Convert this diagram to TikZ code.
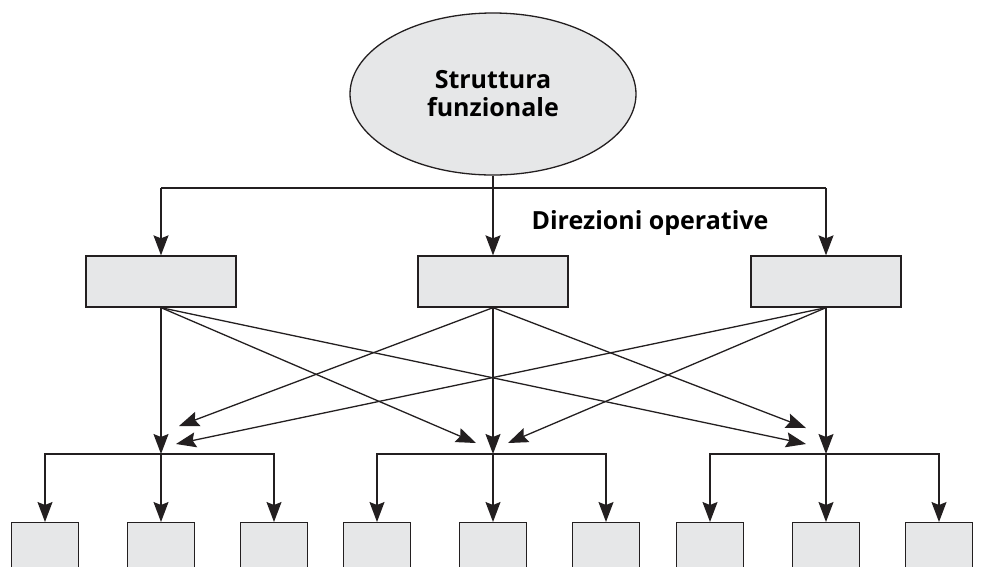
\documentclass[tikz,border=0pt]{standalone}
\usepackage{fontspec}
\setmainfont{Open Sans}
\usetikzlibrary{shapes.geometric,arrows.meta}

\definecolor{boxgray}{HTML}{E6E7E8}
\definecolor{inkline}{HTML}{231F20}

\begin{document}
\begin{tikzpicture}[x=1pt,y=-1pt,
    line width=1.3pt, draw=inkline,
    arr/.style={-{Stealth[length=20pt,width=15pt,inset=3pt]}},
    ovale/.style={ellipse, draw, fill=boxgray, minimum width=286, minimum height=162, inner sep=0, align=center,
      font=\fontsize{25}{28}\selectfont\bfseries},
    direz/.style={rectangle, draw, fill=boxgray, minimum width=150, minimum height=51, inner sep=0},
    ufficio/.style={rectangle, draw, fill=boxgray, minimum width=67, minimum height=70, inner sep=0, anchor=north},
    etichetta/.style={font=\fontsize{25}{28}\selectfont\bfseries, inner sep=0}]
    \useasboundingbox (0,0) rectangle (985,566);
    \clip (0,0) rectangle (985,566);

    \node[ovale] (ell) at (493,94) {Struttura\\funzionale};
    \node[etichetta] (lab) at (650,223) {Direzioni operative};

    \node[direz] (m1) at (161,281.5) {};
    \node[direz] (m2) at (493,281.5) {};
    \node[direz] (m3) at (826,281.5) {};

    \coordinate (barL) at (161,188);
    \coordinate (barR) at (826,188);
    \draw (barL) -- (barR);
    \draw[arr] (ell.south) -- (m2.north);
    \draw[arr] (barL) -- (m1.north);
    \draw[arr] (barR) -- (m3.north);

    \foreach \g/\cx in {1/161,2/493,3/826} {
      \coordinate (j\g) at (\cx,454);
      \node[ufficio] (b\g1) at (\cx-116,522) {};
      \node[ufficio] (b\g2) at (\cx,522) {};
      \node[ufficio] (b\g3) at (\cx+113,522) {};
      \draw[arr] (m\g.south) -- (j\g);
      \draw[arr] (j\g) -| (b\g1.north);
      \draw[arr] (j\g) -- (b\g2.north);
      \draw[arr] (j\g) -| (b\g3.north);
    }

    \coordinate (t12) at (476,443);
    \coordinate (t13) at (806,444);
    \coordinate (t21) at (179,426);
    \coordinate (t23) at (806,428);
    \coordinate (t31) at (176,444);
    \coordinate (t32) at (508,443);
    \draw[arr] (m1.south) -- (t12);
    \draw[arr] (m1.south) -- (t13);
    \draw[arr] (m2.south) -- (t21);
    \draw[arr] (m2.south) -- (t23);
    \draw[arr] (m3.south) -- (t31);
    \draw[arr] (m3.south) -- (t32);
\end{tikzpicture}
\end{document}
